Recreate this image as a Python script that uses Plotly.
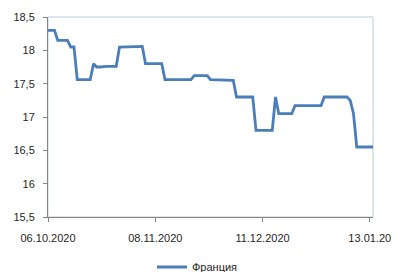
import plotly.graph_objects as go
import pandas as pd

start_date = "2020-10-06"
# daily values, 06.10.2020 .. 14.01.2021
values = (
    [18.3] * 3 +          # days 0-2
    [18.15] * 4 +         # 3-6
    [18.05] * 2 +         # 7-8
    [17.56] * 5 +         # 9-13
    [17.8] * 1 +          # 14
    [17.75] * 2 +         # 15-16
    [17.76] * 5 +         # 17-21
    [18.05] * 5 +         # 22-26
    [18.06] * 3 +         # 27-29
    [17.8] * 6 +          # 30-35
    [17.56] * 9 +         # 36-44
    [17.62] * 5 +         # 45-49
    [17.56] * 5 +         # 50-54
    [17.55] * 3 +         # 55-57
    [17.3] * 6 +          # 58-63
    [16.8] * 6 +          # 64-69
    [17.3] * 1 +          # 70
    [17.05] * 5 +         # 71-75
    [17.17] * 9 +         # 76-84
    [17.3] * 8 +          # 85-92
    [17.25, 17.05] +      # 93-94
    [16.55] * 6           # 95-100
)
dates = pd.date_range(start_date, periods=len(values), freq="D")
series_name = "Франция"

x_tick_vals = ["2020-10-06", "2020-11-08", "2020-12-11", "2021-01-13"]
x_tick_text = ["06.10.2020", "08.11.2020", "11.12.2020", "13.01.20"]
y_tick_vals = [15.5, 16, 16.5, 17, 17.5, 18, 18.5]
y_tick_text = ["15,5", "16", "16,5", "17", "17,5", "18", "18,5"]

fig = go.Figure()
fig.add_trace(go.Scatter(
    x=dates, y=values, mode="lines", name=series_name,
    line=dict(color="#4a7ebb", width=2.8),
))

fig.add_shape(type="rect", xref="paper", yref="paper", x0=0, x1=1, y0=0, y1=1,
              line=dict(color="#b9cde5", width=1), layer="below")

fig.update_layout(
    width=396, height=272,
    margin=dict(l=48, r=23, t=17, b=55, autoexpand=False),
    paper_bgcolor="white", plot_bgcolor="white",
    font=dict(family="Liberation Sans, Arial, sans-serif", size=11, color="#262626"),
    showlegend=True,
    legend=dict(orientation="h", x=0.46, xanchor="center", y=-0.25, yanchor="middle",
                font=dict(size=11), itemwidth=30),
    xaxis=dict(
        range=[dates[0], dates[-1]],
        tickvals=x_tick_vals, ticktext=x_tick_text,
        showgrid=False, zeroline=False, automargin=False,
        showline=True, linecolor="#868686", linewidth=1,
        ticks="outside", ticklen=4, tickcolor="#868686",
        tickangle=0, ticklabelstandoff=7,
    ),
    yaxis=dict(
        range=[15.5, 18.5],
        tickvals=y_tick_vals, ticktext=y_tick_text,
        showgrid=False, zeroline=False, automargin=False,
        showline=True, linecolor="#868686", linewidth=1,
        ticks="outside", ticklen=4, tickcolor="#868686",
        ticklabelstandoff=6,
    ),
)

fig.write_html("out.html", config={"displayModeBar": False},
               post_script="document.body.style.margin='0';document.body.style.overflow='hidden';")
